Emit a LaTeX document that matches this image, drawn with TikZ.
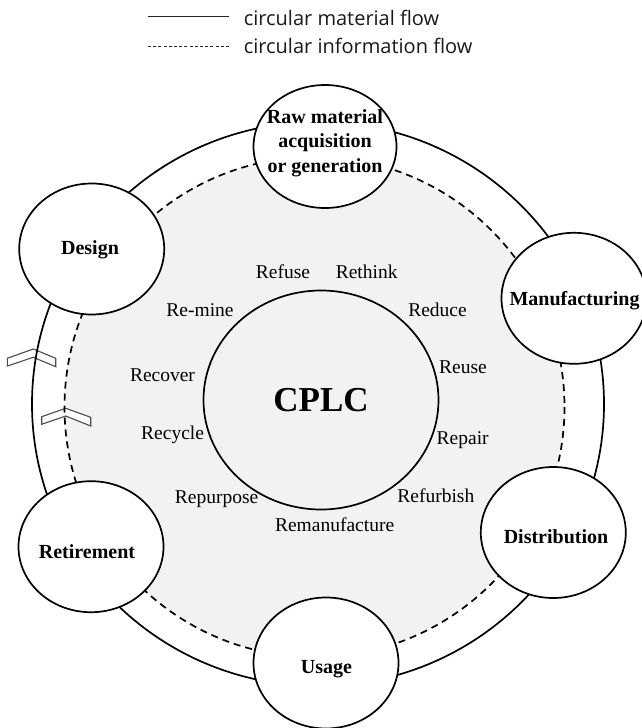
\documentclass[tikz,border=0pt]{standalone}
\usepackage{fontspec}
\setmainfont{Liberation Serif}
\newfontfamily\legfont{Open Sans}
\usetikzlibrary{positioning,shapes.geometric}

\definecolor{cyclegray}{HTML}{F2F2F2}

\begin{document}
\begin{tikzpicture}[
	x = 1pt, y = -1pt, % picture units, y pointing down
	line width = 1.7pt, % line style
	stage/.style={ellipse, draw=black, fill=white, line width=1.7pt, inner sep=0pt, minimum width=145pt, minimum height=131pt},  %text goes on top
	stagetext/.style={inner sep=0pt, align=center, font=\fontsize{20}{24.5}\selectfont\bfseries},
	core/.style={ellipse, draw=black, fill=cyclegray, line width=1.7pt, minimum width=235pt, minimum height=219pt, font=\fontsize{35}{40}\selectfont\bfseries},
	rword/.style={inner sep=0pt, text height=13pt, text depth=0pt, font=\fontsize{19.5}{22}\selectfont},
	legtext/.style={inner sep=0pt, font=\legfont\fontsize{20}{22}\selectfont, text=black!90},
	info/.style={dash pattern=on 7pt off 5pt},
	chevron/.style={draw=black!70, fill=white, line width=1.1pt, line join=miter},
	]
	\useasboundingbox (0,0) rectangle (641,728);

	% Rings
	\coordinate (O) at (318,404);
	\coordinate (I) at (314.5,407);
	\fill[cyclegray] (I) circle [radius=250];
	\draw[chevron] (7.3,358.3) -- (33.3,349) -- (55.7,358.3) -- (55.7,366.7) -- (33.3,357.3) -- (7.3,366) -- cycle;
	\draw[chevron] (41.7,416.7) -- (65.7,408.3) -- (90.7,417.3) -- (90.7,426) -- (65.7,416) -- (41.7,424.3) -- cycle;
	\draw (O) ellipse [x radius=286, y radius=282];
	\draw[info] (I) circle [radius=250];

	% Centre
	\node[core] (cplc) at (321,400) {CPLC};

	% Life cycle stages
	\node[stage, minimum width=143pt, minimum height=123pt] (raw) at (325,146.5) {};
	\node[stagetext] (rawtxt) at (325,143) {Raw material\\acquisition\\or generation};
	\node[stage] (man) at (574,298.3) {};
	\node[stagetext] (mantxt) at (574.5,301) {Manufacturing};
	\node[stage] (dis) at (553.3,532.5) {};
	\node[stagetext] (distxt) at (556,537) {Distribution};
	\node[stage] (use) at (326,663) {};
	\node[stagetext] (usetxt) at (326.5,669) {Usage};
	\node[stage] (ret) at (91,546.7) {};
	\node[stagetext] (rettxt) at (87,552) {Retirement};
	\node[stage] (des) at (91.7,249) {};
	\node[stagetext] (destxt) at (90,249.5) {Design};

	% R-strategies round the centre
	\node[rword] (refuse)  at (283,272) {Refuse};
	\node[rword] (rethink) at (366.7,272) {Rethink};
	\node[rword] (reduce)  at (437.5,310) {Reduce};
	\node[rword] (reuse)   at (463,367) {Reuse};
	\node[rword] (repair)  at (462.7,438) {Repair};
	\node[rword] (refurb)  at (435.8,496) {Refurbish};
	\node[rword] (reman)   at (334.6,525) {Remanufacture};
	\node[rword] (repurp)  at (216.6,497) {Repurpose};
	\node[rword] (recycle) at (172.6,433) {Recycle};
	\node[rword] (recover) at (162.5,375) {Recover};
	\node[rword] (remine)  at (200,310) {Re-mine};

	% Legend
	\coordinate (l1a) at (148,16);
	\coordinate (l1b) at (229,16);
	\coordinate (l2a) at (148,46);
	\coordinate (l2b) at (229,46);
	\draw[line width=1pt, black!85] (l1a) -- (l1b);
	\draw[line width=0.9pt, black!85, dash pattern=on 3pt off 2.2pt] (l2a) -- (l2b);
	\node[legtext, right = 14pt of l1b, yshift=-1.5pt] (legmat) {circular material flow};
	\node[legtext, right = 14pt of l2b] (leginf) {circular information flow};

\end{tikzpicture}
\end{document}
